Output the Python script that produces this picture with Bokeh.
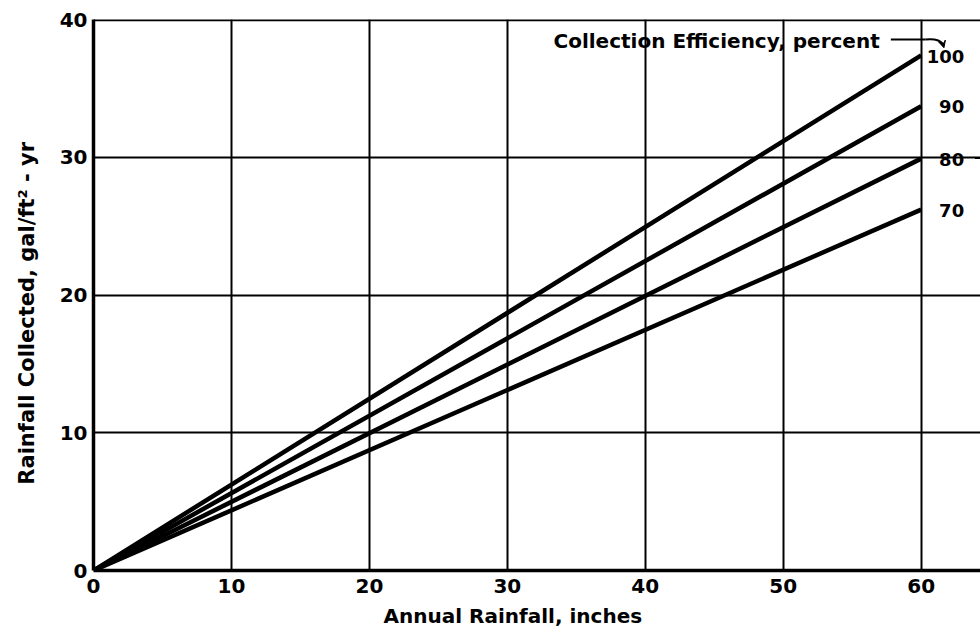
from bokeh.plotting import figure
from bokeh.models import Range1d, Label, Span, Arrow, VeeHead, FixedTicker, Title
from bokeh.embed import file_html
from bokeh.resources import INLINE

# ---- data ----
rainfall_in = [0, 60]
efficiency_pct = [100, 90, 80, 70]
collected_at_60 = [37.4, 33.7, 29.9, 26.2]
x_ticks = [0, 10, 20, 30, 40, 50, 60]
y_ticks = [0, 10, 20, 30, 40]

FONT = "DejaVu Sans"
NB = "\u00a0"

p = figure(width=980, height=636, output_backend="svg", toolbar_location=None,
           x_range=Range1d(0, 64.3), y_range=Range1d(0, 40),
           min_border_left=93, min_border_right=0, min_border_top=19, min_border_bottom=66)
p.outline_line_color = None
p.background_fill_color = "white"

for ax, ticks in ((p.xaxis, x_ticks), (p.yaxis, y_ticks)):
    ax.ticker = FixedTicker(ticks=ticks)
    ax.axis_line_color = "black"
    ax.axis_line_width = 3.5
    ax.major_tick_out = 0
    ax.major_tick_in = 0
    ax.minor_tick_out = 0
    ax.minor_tick_in = 0
    ax.major_label_text_font = FONT
    ax.major_label_text_font_style = "bold"
    ax.major_label_text_font_size = "20px"
    ax.major_label_text_color = "black"
p.xaxis.major_label_standoff = 8
p.yaxis.major_label_standoff = 6

p.yaxis.axis_label = "Rainfall Collected,  gal/ft² - yr" + NB * 4
p.yaxis.axis_label_text_font = FONT
p.yaxis.axis_label_text_font_style = "bold"
p.yaxis.axis_label_text_font_size = "21px"
p.yaxis.axis_label_text_color = "black"
p.yaxis.axis_label_standoff = 18

p.add_layout(Title(text="Annual Rainfall,  inches", align="left", offset=290,
                   text_font=FONT, text_font_style="bold", text_font_size="20px",
                   text_color="black", standoff=13), "below")

p.xgrid.ticker = FixedTicker(ticks=x_ticks)
p.ygrid.ticker = FixedTicker(ticks=y_ticks)
for g in (p.xgrid, p.ygrid):
    g.grid_line_color = "black"
    g.grid_line_width = 2
    g.grid_line_alpha = 1

p.add_layout(Span(location=40, dimension="width", line_color="black", line_width=3.5))

for eff, v in zip(efficiency_pct, collected_at_60):
    p.line([rainfall_in[0], rainfall_in[1]], [0, v], line_color="black", line_width=4.5)
    lx = 60.4 if eff >= 100 else 61.3
    p.add_layout(Label(x=lx, y=v - 0.05, text=str(eff), text_font=FONT, text_font_style="bold",
                       text_font_size="18px", text_baseline="middle", text_align="left",
                       text_color="black"))

p.add_layout(Label(x=57.5, y=38.45, text="Collection Efficiency,  percent", text_font=FONT,
                   text_font_style="bold", text_font_size="20px", text_baseline="middle",
                   text_align="right", text_color="black"))
# arrow pointing to the 100 label
p.line([57.8, 60.3], [38.55, 38.55], line_color="black", line_width=2)
p.bezier(x0=[60.3], y0=[38.55], x1=[61.6], y1=[38.1], cx0=[61.1], cy0=[38.65], cx1=[61.55], cy1=[38.4],
         line_color="black", line_width=2)
p.add_layout(Arrow(x_start=61.55, y_start=38.3, x_end=61.65, y_end=37.95, line_color="black",
                   line_width=2, end=VeeHead(size=7, fill_color="black", line_color="black")))
p.line([63.9, 64.3], [29.95, 29.95], line_color="black", line_width=2)

open("out.html", "w").write(file_html(p, INLINE))
